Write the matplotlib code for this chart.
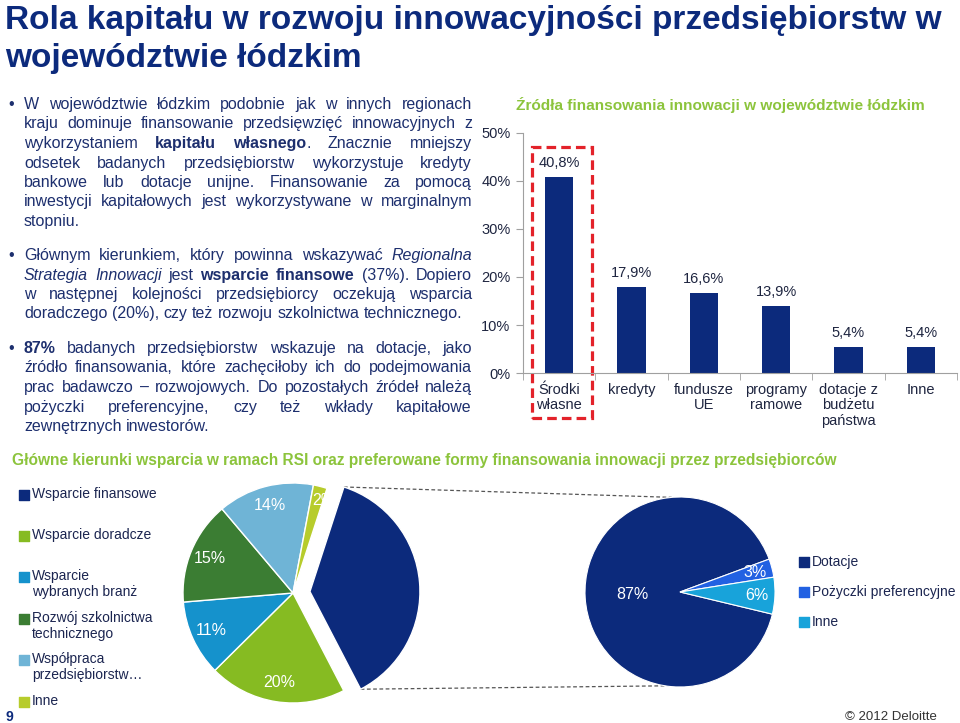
import numpy as np
import matplotlib
matplotlib.use('Agg')
import matplotlib.pyplot as plt
from matplotlib.patches import Rectangle

plt.rcParams['font.family'] = ['Liberation Sans', 'DejaVu Sans']

# ── Dane ─────────────────────────────────────────────────────────
zrodla = ['Środki\nwłasne', 'kredyty', 'fundusze\nUE', 'programy\nramowe',
          'dotacje z\nbudżetu\npaństwa', 'Inne']
zrodla_val = [40.8, 17.9, 16.6, 13.9, 5.4, 5.4]

kierunki = ['Wsparcie finansowe', 'Wsparcie doradcze', 'Wsparcie\nwybranych branż',
            'Rozwój szkolnictwa\ntechnicznego', 'Współpraca\nprzedsiębiorstw…', 'Inne']
kierunki_val = [37, 20, 11, 15, 14, 2]

formy = ['Dotacje', 'Pożyczki preferencyjne', 'Inne']
formy_val = [87, 3, 6]

# ── Kolory ───────────────────────────────────────────────────────
NAVY = '#0c2a7c'
GREEN = '#8cc43c'
TXT = '#1d2f6e'
kol_kier = [NAVY, '#86bb22', '#1592cc', '#3b7d33', '#6fb4d6', '#b7cc2c']
kol_formy = [NAVY, '#2261e2', '#18a3da']

# ── Tekst ────────────────────────────────────────────────────────
para1 = [
    "W województwie łódzkim podobnie jak w innych regionach",
    "kraju dominuje finansowanie przedsięwzięć innowacyjnych z",
    "wykorzystaniem *kapitału własnego*. Znacznie mniejszy",
    "odsetek badanych przedsiębiorstw wykorzystuje kredyty",
    "bankowe lub dotacje unijne. Finansowanie za pomocą",
    "inwestycji kapitałowych jest wykorzystywane w marginalnym",
    "stopniu.",
]
para2 = [
    "Głównym kierunkiem, który powinna wskazywać ~Regionalna~",
    "~Strategia Innowacji~ jest *wsparcie finansowe* (37%). Dopiero",
    "w następnej kolejności przedsiębiorcy oczekują wsparcia",
    "doradczego (20%), czy też rozwoju szkolnictwa technicznego.",
]
para3 = [
    "*87%* badanych przedsiębiorstw wskazuje na dotacje, jako",
    "źródło finansowania, które zachęciłoby ich do podejmowania",
    "prac badawczo – rozwojowych. Do pozostałych źródeł należą",
    "pożyczki preferencyjne, czy też wkłady kapitałowe",
    "zewnętrznych inwestorów.",
]

W, H = 960, 723
fig = plt.figure(figsize=(9.6, 7.23), dpi=100)
fig.patch.set_facecolor('white')
rend = fig.canvas.get_renderer()


def px_axes(x0, y0, x1, y1):
    return fig.add_axes([x0 / W, 1 - y1 / H, (x1 - x0) / W, (y1 - y0) / H])


bg = fig.add_axes([0, 0, 1, 1])
bg.set_xlim(0, W)
bg.set_ylim(H, 0)
bg.axis('off')

# ── Tytuł ────────────────────────────────────────────────────────
bg.text(5, 29, 'Rola kapitału w rozwoju innowacyjności przedsiębiorstw w',
        fontsize=24, fontweight='bold', color=NAVY, va='baseline')
bg.text(5, 67, 'województwie łódzkim', fontsize=24, fontweight='bold',
        color=NAVY, va='baseline')

# ── Tekst z punktorami (wyjustowany) ─────────────────────────────
X0, X1 = 24, 472
FS = 11.5


def parse(line):
    words = []
    bold = ital = False
    for tok in line.split(' '):
        segs, cur = [], ''
        for ch in tok:
            if ch in '*~':
                if cur:
                    segs.append((cur, bold, ital))
                    cur = ''
                if ch == '*':
                    bold = not bold
                else:
                    ital = not ital
            else:
                cur += ch
        if cur:
            segs.append((cur, bold, ital))
        words.append(segs)
    return words


sp1 = bg.text(0, 0, 'x x', fontsize=FS)
sp2 = bg.text(0, 0, 'xx', fontsize=FS)
SPACE = sp1.get_window_extent(rend).width - sp2.get_window_extent(rend).width
sp1.remove()
sp2.remove()


def draw_line(y, line, justify):
    items = []
    for segs in parse(line):
        parts = []
        for s, b, i in segs:
            parts.append(bg.text(0, y, s, fontsize=FS, color=TXT, va='baseline',
                                 fontweight='bold' if b else 'normal',
                                 fontstyle='italic' if i else 'normal'))
        items.append(parts)
    wid = [[p.get_window_extent(rend).width for p in parts] for parts in items]
    total = sum(sum(w) for w in wid)
    gap = (X1 - X0 - total) / (len(items) - 1) if justify else SPACE
    x = X0
    for parts, ws in zip(items, wid):
        for p, w in zip(parts, ws):
            p.set_x(x)
            x += w
        x += gap


for para, y0 in [(para1, 109), (para2, 260), (para3, 353)]:
    bg.text(8, y0, '•', fontsize=FS, color=TXT, va='baseline')
    for k, line in enumerate(para):
        draw_line(round(y0 + k * 19.5), line, k < len(para) - 1)

# ── Wykres słupkowy ──────────────────────────────────────────────
bg.text(720, 105, 'Źródła finansowania innowacji w województwie łódzkim',
        fontsize=11.1, fontweight='bold', color=GREEN, ha='center', va='center')

ax = px_axes(523, 133, 957, 373)
x = np.arange(len(zrodla))
bars = ax.bar(x, np.array(zrodla_val) / 100, width=0.39, color=NAVY)
for b, v in zip(bars, zrodla_val):
    ax.annotate(f'{v:.1f}%'.replace('.', ','), (b.get_x() + b.get_width() / 2, b.get_height()),
                xytext=(0, 5), textcoords='offset points', ha='center', va='bottom',
                fontsize=10.5, color='#1e2540')
ax.set_xlim(-0.5, len(zrodla) - 0.5)
ax.set_ylim(0, 0.5)
ax.set_yticks(np.arange(0, 0.51, 0.1))
ax.set_yticklabels([f'{int(round(t * 100))}%' for t in np.arange(0, 0.51, 0.1)])
ax.set_xticks(x)
ax.set_xticklabels(zrodla, fontsize=10.5, color='#1e2540', linespacing=1.15)
ax.set_xticks(np.arange(-0.5, len(zrodla)), minor=True)
ax.tick_params(axis='x', which='major', length=0, pad=7)
ax.tick_params(axis='x', which='minor', length=5, color='#a0a0a0')
ax.tick_params(axis='y', length=5, color='#a0a0a0', labelsize=10.5, labelcolor='#1e2540', pad=4)
for s in ['top', 'right']:
    ax.spines[s].set_visible(False)
for s in ['left', 'bottom']:
    ax.spines[s].set_color('#a0a0a0')
# ramka wokół "Środki własne"
c0 = bars[0].get_x() + bars[0].get_width() / 2
ax.add_patch(Rectangle((c0 - 0.38, -0.094), 0.83, 0.565, fill=False, edgecolor='#e3222a',
                       linewidth=2.3, linestyle=(0, (3, 1.6)), clip_on=False))

# ── Nagłówek dolnej sekcji ───────────────────────────────────────
bg.text(12, 460, 'Główne kierunki wsparcia w ramach RSI oraz preferowane formy finansowania '
        'innowacji przez przedsiębiorców', fontsize=11.2, fontweight='bold',
        color=GREEN, va='center')

# ── Lewy wykres kołowy ───────────────────────────────────────────
RL = 110
axL = px_axes(293 - 150, 593 - 150, 293 + 150, 593 + 150)
wL, _ = axL.pie(kierunki_val, colors=kol_kier, startangle=72, counterclock=False,
                explode=[17 / RL, 0, 0, 0, 0, 0], radius=1,
                wedgeprops=dict(linewidth=1, edgecolor='white'))
wL[0].set_zorder(3)
lim = 150 / RL
axL.set_xlim(-lim, lim)
axL.set_ylim(-lim, lim)
axL.set_aspect('equal')
for w, v in zip(wL, kierunki_val):
    a = np.deg2rad((w.theta1 + w.theta2) / 2)
    cx, cy = w.center
    r = 0.87 if v < 5 else 0.82
    axL.text(cx + r * np.cos(a) + (0.06 if v < 5 else 0), cy + r * np.sin(a), f'{v}%',
             color='white', fontsize=11.5, ha='center', va='center', zorder=2)

# legenda lewa
leg_y = [495, 536, 577, 619, 660, 702]
for w, lab, yy in zip(wL, kierunki, leg_y):
    bg.scatter(24, yy, marker='s', s=45, color=w.get_facecolor(), zorder=3)
    bg.text(32, yy - 8, lab, fontsize=10, color='#1b2550', va='top', linespacing=1.2)

# ── Prawy wykres kołowy ──────────────────────────────────────────
RR = 95
axR = px_axes(680 - 130, 592 - 130, 680 + 130, 592 + 130)
wR, _ = axR.pie(formy_val, colors=kol_formy, startangle=-13.5, counterclock=False,
                radius=1, wedgeprops=dict(linewidth=0.8, edgecolor='white'))
lim = 130 / RR
axR.set_xlim(-lim, lim)
axR.set_ylim(-lim, lim)
axR.set_aspect('equal')
for w, v, r in zip(wR, formy_val, [0.5, 0.82, 0.81]):
    a = np.deg2rad((w.theta1 + w.theta2) / 2)
    axR.text(r * np.cos(a), r * np.sin(a), f'{v}%', color='white', fontsize=11.5,
             ha='center', va='center')

for w, lab, yy in zip(wR, formy, [562, 592, 622]):
    bg.scatter(804, yy, marker='s', s=45, color=w.get_facecolor(), zorder=3)
    bg.text(812, yy, lab, fontsize=10, color='#1b2550', va='center')

# ── Linie łączące ────────────────────────────────────────────────
inv = bg.transData.inverted()
n = wL[0]
cx, cy = n.center
pL_top = inv.transform(axL.transData.transform((cx + np.cos(np.deg2rad(n.theta2)),
                                                cy + np.sin(np.deg2rad(n.theta2)))))
pL_bot = inv.transform(axL.transData.transform((cx + np.cos(np.deg2rad(n.theta1)),
                                                cy + np.sin(np.deg2rad(n.theta1)))))
pR_top = inv.transform(axR.transData.transform((np.cos(np.deg2rad(95)), np.sin(np.deg2rad(95)))))
pR_bot = inv.transform(axR.transData.transform((np.cos(np.deg2rad(-99)), np.sin(np.deg2rad(-99)))))
for p, q in [(pL_top, pR_top), (pL_bot, pR_bot)]:
    bg.plot([p[0], q[0]], [p[1], q[1]], color='#555555', lw=0.9, ls=(0, (3, 2)), zorder=0)

# ── Stopka ───────────────────────────────────────────────────────
bg.text(5, 717, '9', fontsize=10, fontweight='bold', color=NAVY, va='center')
bg.text(937, 717, '© 2012 Deloitte', fontsize=9.5, color='#333333', ha='right', va='center')

fig.savefig('out.png', dpi=100, facecolor='white')
